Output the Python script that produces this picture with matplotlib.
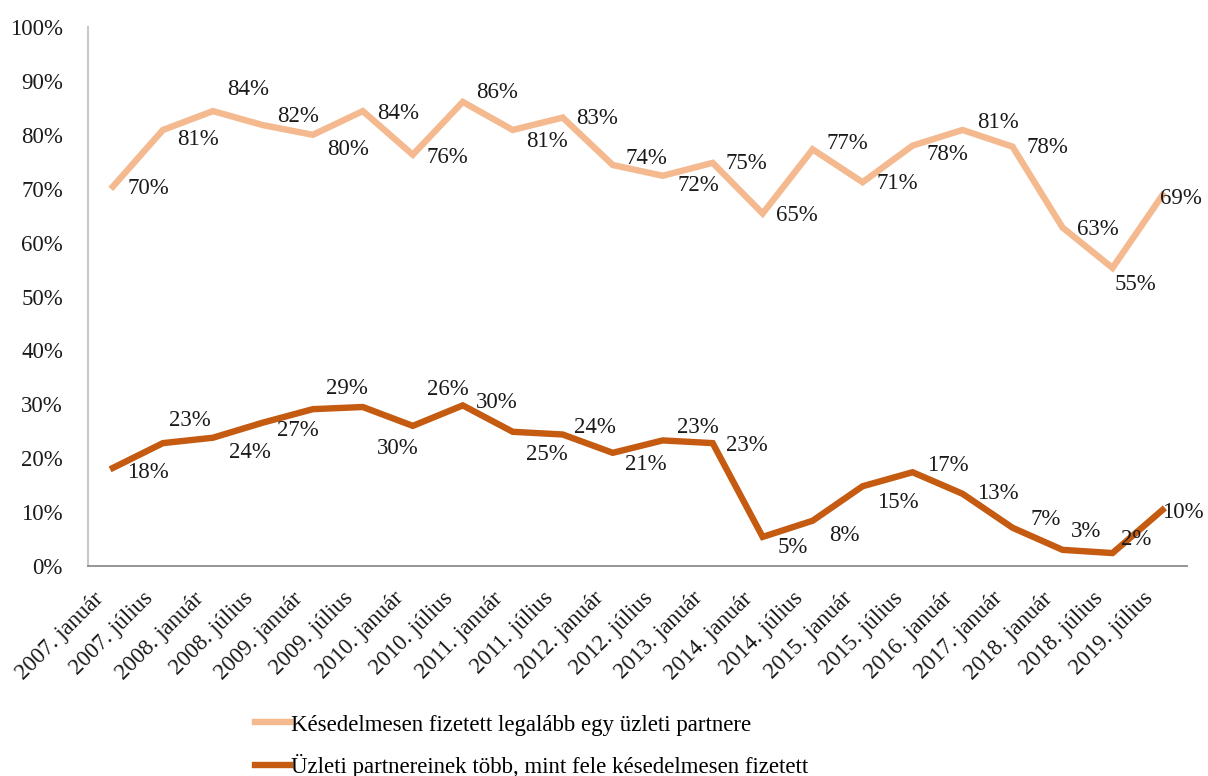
import matplotlib.pyplot as plt
import matplotlib.transforms as mtransforms
import numpy as np

plt.rcParams['font.family'] = ['Liberation Serif', 'DejaVu Serif']

periods = ['2007. január', '2007. július', '2008. január', '2008. július',
           '2009. január', '2009. július', '2010. január', '2010. július',
           '2011. január', '2011. július', '2012. január', '2012. július',
           '2013. január', '2014. január', '2014. július', '2015. január',
           '2015. július', '2016. január', '2017. január', '2018. január',
           '2018. július', '2019. július']

# legalább egy partner késve fizetett (%)
legalabb_egy = [70.4, 80.9, 84.4, 81.8, 80.0, 84.4, 76.3, 86.1, 80.9, 83.2, 74.4,
                72.4, 74.8, 65.4, 77.3, 71.2, 78.0, 80.9, 77.8, 62.8, 55.3, 68.8]
# partnerek több mint fele késve fizetett (%)
tobb_mint_fele = [18.2, 22.8, 23.8, 26.6, 29.1, 29.5, 26.0, 29.8, 24.9, 24.4, 21.0,
                  23.3, 22.8, 5.4, 8.4, 14.8, 17.4, 13.4, 7.1, 3.0, 2.4, 10.4]

name_1 = 'Késedelmesen fizetett legalább egy üzleti partnere'
name_2 = 'Üzleti partnereinek több, mint fele késedelmesen fizetett'

# label offsets (pixels, dx right / dy down) as placed in the original
off_1 = [(35, 2), (35, 10), (35, -22), (35, -9), (35, 15), (35, 2), (35, 3), (34, -9),
         (34, 12), (34, 1), (34, -6), (36, 10), (34, 1), (34, 2), (35, -6), (35, 1),
         (35, 9), (35, -7), (35, 1), (35, 2), (23, 17), (18, 3)]
off_2 = [(35, 5), (27, -23), (37, 15), (35, 8), (34, -21), (35, 41), (35, -36), (34, -3),
         (34, 23), (32, -7), (33, 12), (35, -13), (34, 2), (30, 11), (32, 15), (35, 16),
         (35, -7), (35, 0), (33, -8), (24, -18), (24, -14), (20, 3)]

c_light = '#F4B98E'
c_dark = '#C55A11'
fs = 16.5

fig = plt.figure(figsize=(12.08, 7.76), dpi=100)
ax = fig.add_axes([0.0728, 0.2706, 0.9102, 0.6946])

x = np.arange(len(periods))
ax.plot(x, legalabb_egy, color=c_light, lw=4.6, label=name_1, solid_joinstyle='miter')
ax.plot(x, tobb_mint_fele, color=c_dark, lw=4.6, label=name_2, solid_joinstyle='miter')

for vals, offs in [(legalabb_egy, off_1), (tobb_mint_fele, off_2)]:
    for i, v in enumerate(vals):
        dx, dy = offs[i]
        ax.annotate(f'{v:.0f}%', (x[i], v), xytext=(dx, -dy), textcoords='offset pixels',
                    ha='center', va='center', fontsize=fs, color='#1a1a1a')

ax.set_xlim(-0.5, len(periods) - 0.5)
ax.set_ylim(0, 100)
ax.set_yticks(range(0, 101, 10))
ax.set_yticklabels([f'{t}%' for t in range(0, 101, 10)], fontsize=fs, color='#1a1a1a')
ax.set_xticks(x)
ax.set_xticklabels(periods, rotation=45, ha='right', va='center',
                   rotation_mode='anchor', fontsize=fs, color='#1a1a1a')
ax.tick_params(axis='both', length=0)
ax.tick_params(axis='y', pad=18)
ax.tick_params(axis='x', pad=14)
shift = mtransforms.ScaledTranslation(-0.13, -0.10, fig.dpi_scale_trans)
for lab in ax.get_xticklabels():
    lab.set_transform(lab.get_transform() + shift)

for s in ['top', 'right']:
    ax.spines[s].set_visible(False)
ax.spines['left'].set_color('#C8C8C8')
ax.spines['left'].set_linewidth(1.5)
ax.spines['bottom'].set_color('#8C8C8C')
ax.spines['bottom'].set_linewidth(1.3)

fig.legend(loc='upper left', bbox_to_anchor=(244 / 1208, 1 - 703 / 776), frameon=False,
           fontsize=fs, handlelength=1.5, handletextpad=0.05, labelspacing=0.82,
           borderpad=0)

fig.savefig('out.png', dpi=100)
